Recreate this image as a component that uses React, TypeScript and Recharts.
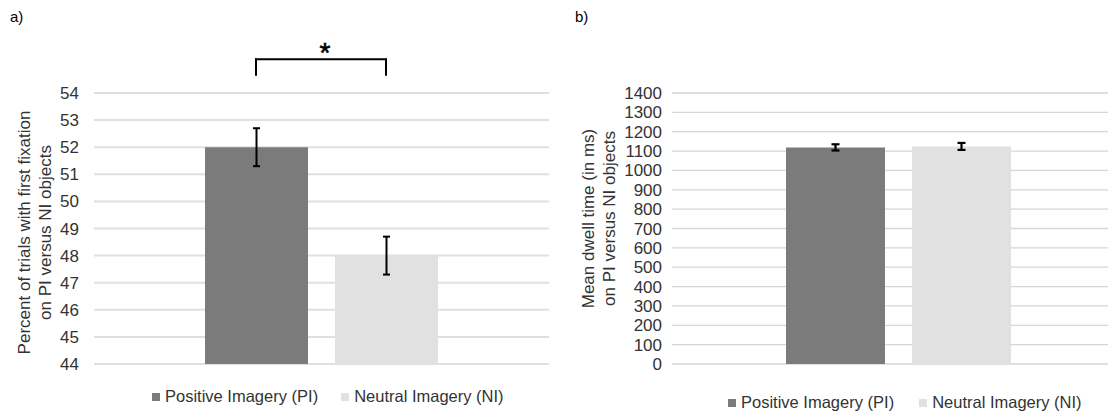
import React from 'react';
import {
  BarChart,
  Bar,
  XAxis,
  YAxis,
  CartesianGrid,
  ErrorBar,
  Cell,
  Legend,
  ReferenceLine,
} from 'recharts';

// ---------- data ----------
const categories = ['Positive Imagery (PI)', 'Neutral Imagery (NI)'];
const seriesColors = ['#7b7b7b', '#e1e1e1'];

const fixationValues = [52.0, 48.0];
const fixationErrors = [0.7, 0.7];
const fixationTicks = [44, 45, 46, 47, 48, 49, 50, 51, 52, 53, 54];
const fixationTitle = ['Percent of trials with first fixation', 'on PI versus  NI objects'];

const dwellValues = [1119, 1124];
const dwellErrors = [16, 18];
const dwellTicks = [0, 100, 200, 300, 400, 500, 600, 700, 800, 900, 1000, 1100, 1200, 1300, 1400];
const dwellTitle = ['Mean dwell time (in ms)', 'on PI versus NI objects'];

const sigTop = 55.25;
const sigLegBottom = 54.67;
const sigMark = '*';

const panelLabels = ['a)', 'b)'];

// ---------- styles ----------
const FONT = '"Liberation Sans", Arial, Helvetica, sans-serif';
const TEXT = '#333333';

const fixationData = categories.map((name, i) => ({
  name,
  value: fixationValues[i],
  err: fixationErrors[i],
}));
const dwellData = categories.map((name, i) => ({
  name,
  value: dwellValues[i],
  err: dwellErrors[i],
}));

const makeTitle = (lines: string[], xs: number[], shift: number) => (props: any) => {
  const vb = props.viewBox || {};
  const cy = (vb.y || 0) + (vb.height || 0) / 2 + shift;
  return (
    <g>
      {lines.map((t, i) => (
        <text
          key={i}
          x={xs[i]}
          y={cy}
          transform={`rotate(-90 ${xs[i]} ${cy})`}
          textAnchor="middle"
          dominantBaseline="central"
          fontFamily={FONT}
          fontSize={17}
          fill={TEXT}
        >
          {t}
        </text>
      ))}
    </g>
  );
};

const makeLegend = (gap: number) => () => (
  <div style={{ display: 'flex', alignItems: 'center', fontFamily: FONT, fontSize: 16.5, color: TEXT, lineHeight: '19px', whiteSpace: 'nowrap' }}>
    {categories.map((c, i) => (
      <div key={c} style={{ display: 'flex', alignItems: 'center', marginRight: i === 0 ? gap : 0 }}>
        <span style={{ display: 'inline-block', width: 8, height: 8, background: seriesColors[i], marginRight: 5 }} />
        <span>{c}</span>
      </div>
    ))}
  </div>
);

const StarLabel = (props: any) => {
  const vb = props.viewBox || {};
  const cx = (vb.x || 0) + (vb.width || 0) / 2 + 4;
  return (
    <text x={cx} y={(vb.y || 0) + 3} textAnchor="middle" fontFamily={FONT} fontSize={28} fill="#000" stroke="#000" strokeWidth={0.6}>
      {sigMark}
    </text>
  );
};

export default function App() {
  return (
    <div style={{ position: 'absolute', left: 0, top: 0, width: 1110, height: 414, background: '#fff', fontFamily: FONT }}>
      <div style={{ position: 'absolute', left: 10, top: 8, fontSize: 15, color: '#000' }}>{panelLabels[0]}</div>
      <div style={{ position: 'absolute', left: 575, top: 8, fontSize: 15, color: '#000' }}>{panelLabels[1]}</div>

      <div style={{ position: 'absolute', left: 0, top: 0 }}>
        <BarChart width={555} height={414} data={fixationData} margin={{ top: 93, right: 6, bottom: 50, left: 0 }}>
          <CartesianGrid vertical={false} stroke="#e0e0e0" strokeWidth={2} />
          <XAxis dataKey="name" hide padding={{ left: 97, right: 98 }} />
          <YAxis
            type="number"
            domain={[44, 54]}
            ticks={fixationTicks}
            interval={0}
            width={94}
            axisLine={false}
            tickLine={false}
            tickSize={0}
            tickMargin={15}
            tick={{ fontFamily: FONT, fontSize: 17, fill: TEXT }}
            label={makeTitle(fixationTitle, [24.5, 45], 4)}
          />
          <Bar dataKey="value" barSize={103} isAnimationActive={false}>
            {fixationData.map((d, i) => (
              <Cell key={d.name} fill={seriesColors[i]} />
            ))}
            <ErrorBar dataKey="err" width={3.5} strokeWidth={2} stroke="#000" direction="y" />
          </Bar>
          <ReferenceLine
            segment={[{ x: categories[0], y: sigTop }, { x: categories[1], y: sigTop }]}
            stroke="#000"
            strokeWidth={2}
            strokeLinecap="square"
            ifOverflow="visible"
            label={StarLabel}
          />
          <ReferenceLine
            segment={[{ x: categories[0], y: sigLegBottom }, { x: categories[0], y: sigTop }]}
            stroke="#000"
            strokeWidth={2}
            strokeLinecap="square"
            ifOverflow="visible"
          />
          <ReferenceLine
            segment={[{ x: categories[1], y: sigLegBottom }, { x: categories[1], y: sigTop }]}
            stroke="#000"
            strokeWidth={2}
            strokeLinecap="square"
            ifOverflow="visible"
          />
          <Legend
            layout="horizontal"
            verticalAlign="middle"
            align="center"
            content={makeLegend(23)}
            wrapperStyle={{ top: 387, left: 152, width: 'auto' }}
          />
        </BarChart>
      </div>

      <div style={{ position: 'absolute', left: 555, top: 0 }}>
        <BarChart width={555} height={414} data={dwellData} margin={{ top: 93, right: 2, bottom: 50, left: 0 }}>
          <CartesianGrid vertical={false} stroke="#d6d6d6" strokeWidth={1.3} />
          <XAxis dataKey="name" hide padding={{ left: 100, right: 84 }} />
          <YAxis
            type="number"
            domain={[0, 1400]}
            ticks={dwellTicks}
            interval={0}
            width={117}
            axisLine={false}
            tickLine={false}
            tickSize={0}
            tickMargin={10}
            tick={{ fontFamily: FONT, fontSize: 17, fill: TEXT }}
            label={makeTitle(dwellTitle, [33, 54], -10)}
          />
          <Bar dataKey="value" barSize={99} isAnimationActive={false}>
            {dwellData.map((d, i) => (
              <Cell key={d.name} fill={seriesColors[i]} />
            ))}
            <ErrorBar dataKey="err" width={4} strokeWidth={2.2} stroke="#000" direction="y" />
          </Bar>
          <Legend
            layout="horizontal"
            verticalAlign="middle"
            align="center"
            content={makeLegend(25)}
            wrapperStyle={{ top: 393, left: 173, width: 'auto' }}
          />
        </BarChart>
      </div>
    </div>
  );
}
